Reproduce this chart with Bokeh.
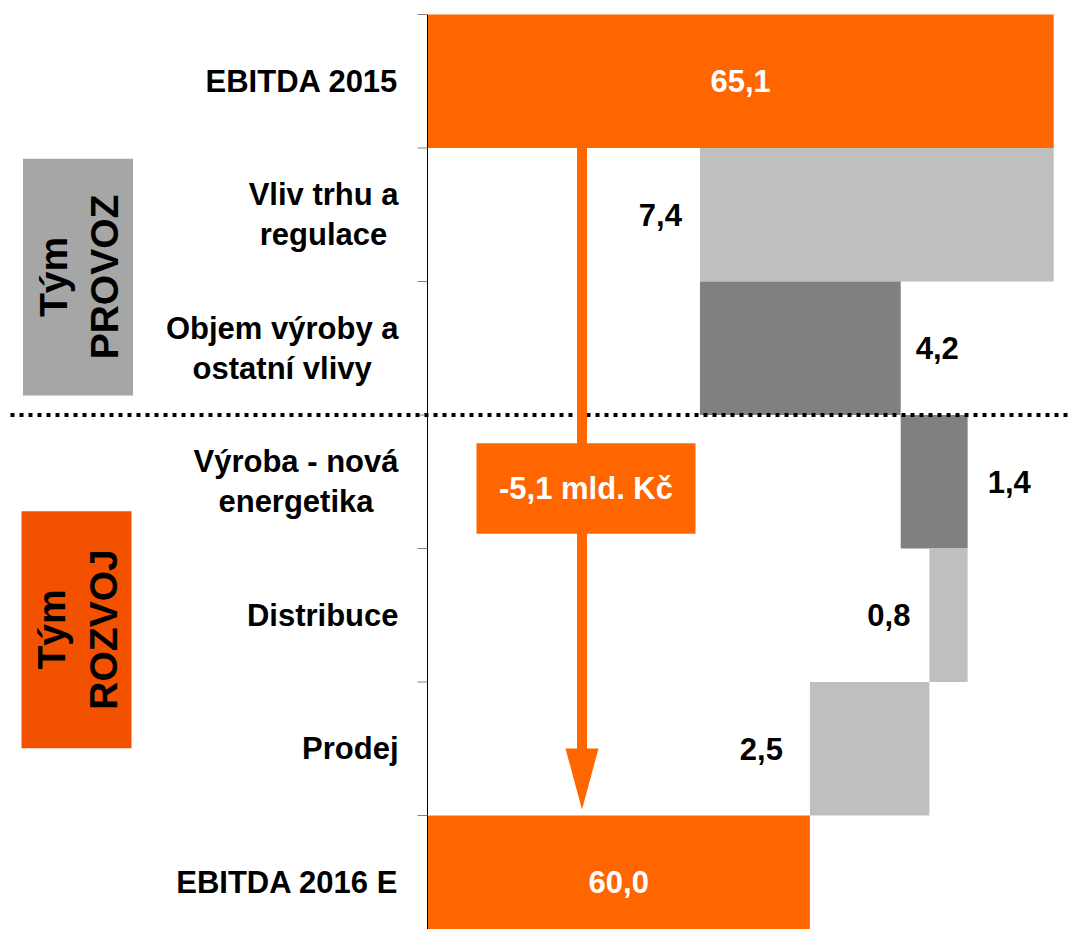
from math import pi
from bokeh.plotting import figure
from bokeh.models import Range1d, ColumnDataSource
from bokeh.core.properties import value
from bokeh.embed import file_html
from bokeh.resources import INLINE

# ---------------- data ----------------
categories = ["EBITDA 2015", "Vliv trhu a\nregulace", "Objem výroby a\nostatní vlivy",
              "Výroba - nová\nenergetika", "Distribuce", "Prodej", "EBITDA 2016 E"]
start_total = 65.1
deltas = [-7.4, 4.2, 1.4, -0.8, -2.5]
end_total = 60.0
teams = ["Tým\nPROVOZ", "Tým\nROZVOJ"]
unit = "mld. Kč"
axis_start = 52.0

def fmt(v):
    return f"{v:.1f}".replace(".", ",")

# ---------------- layout helpers (picture pixels -> data) ----------------
W, H = 1068, 929
ORIGIN = 0.0
AXIS_PX = 427.0
PX_PER_UNIT = 47.8
ROW_TOP_PX = 14.0
ROW_H = 133.5

def dx(px):
    return axis_start + (px - AXIS_PX) / PX_PER_UNIT

def dy(py):
    return (py - ROW_TOP_PX) / ROW_H - 0.5

ORANGE = "#FF6600"
LIGHT = "#BFBFBF"
DARK = "#808080"
FONT = value("Liberation Sans")

p = figure(width=W, height=H, x_range=Range1d(dx(ORIGIN), dx(ORIGIN + W)),
           y_range=Range1d(dy(ORIGIN + H), dy(ORIGIN)),
           x_axis_location=None, y_axis_location=None,
           output_backend="svg", toolbar_location=None, min_border=0)
p.grid.visible = False
p.outline_line_color = None
p.background_fill_color = "white"

# ---------------- waterfall bars ----------------
rows = list(range(len(categories)))
lefts, rights, colors = [axis_start], [start_total], [ORANGE]
level = start_total
for d in deltas:
    new = level + d
    lefts.append(min(level, new))
    rights.append(max(level, new))
    colors.append(DARK if d > 0 else LIGHT)
    level = new
lefts.append(axis_start)
rights.append(end_total)
colors.append(ORANGE)

p.hbar(y=rows, left=lefts, right=rights, height=1.0, fill_color=colors, line_color=None)

# axis line and ticks
p.segment(x0=[axis_start], y0=[-0.5], x1=[axis_start], y1=[len(categories) - 0.5],
          line_color="black", line_width=1)
bounds = [r - 0.5 for r in rows]
p.segment(x0=[dx(417)] * len(bounds), y0=bounds, x1=[axis_start] * len(bounds), y1=bounds,
          line_color="#808080", line_width=1)

# category labels
p.text(x=[axis_start] * len(categories), y=rows, text=categories, x_offset=-29,
       anchor="center_right", text_align="center", text_baseline="middle",
       text_font=FONT, text_font_style="bold", text_font_size="31px",
       text_line_height=1.13, text_color="black")

# total labels (white, centred)
p.text(x=[(lefts[0] + rights[0]) / 2, (lefts[-1] + rights[-1]) / 2], y=[rows[0], rows[-1]],
       text=[fmt(start_total), fmt(end_total)], text_align="center", text_baseline="middle",
       text_font=FONT, text_font_style="bold", text_font_size="31px", text_color="white")

# delta labels
gaps = [18, 15, 20, 19, 27]
negd = dict(x=[], y=[], t=[], o=[])
posd = dict(x=[], y=[], t=[], o=[])
for i, d in enumerate(deltas):
    r = i + 1
    if d < 0:
        negd["x"].append(lefts[r]); negd["y"].append(r); negd["t"].append(fmt(abs(d))); negd["o"].append(-gaps[i])
    else:
        posd["x"].append(rights[r]); posd["y"].append(r); posd["t"].append(fmt(abs(d))); posd["o"].append(gaps[i])
neg = ColumnDataSource(negd)
pos = ColumnDataSource(posd)
p.text(x="x", y="y", text="t", x_offset="o", source=neg, text_align="right", text_baseline="middle",
       text_font=FONT, text_font_style="bold", text_font_size="31px", text_color="black")
p.text(x="x", y="y", text="t", x_offset="o", source=pos, text_align="left", text_baseline="middle",
       text_font=FONT, text_font_style="bold", text_font_size="31px", text_color="black")

# dotted separator between teams
p.segment(x0=[dx(10)], y0=[2.5], x1=[dx(1090)], y1=[2.5], line_color="black",
          line_width=4, line_dash="4 5")

# big arrow from first total to final total
ax = dx(581.5)
p.quad(left=[dx(576.5)], right=[dx(586.5)], top=[0.5], bottom=[dy(750)],
       fill_color=ORANGE, line_color=None)
p.patch(x=[dx(565), dx(598), ax], y=[dy(748), dy(748), dy(809)],
        fill_color=ORANGE, line_color=None)
p.quad(left=[dx(476)], right=[dx(695)], top=[dy(442.7)], bottom=[dy(533.3)],
       fill_color=ORANGE, line_color=None)
p.text(x=[dx(585.5)], y=[dy(488)], text=[f"{fmt(end_total - start_total)} {unit}"],
       text_align="center", text_baseline="middle", text_font=FONT, text_font_style="bold",
       text_font_size="31px", text_color="white")

# team boxes
p.quad(left=[dx(22.5), dx(21)], right=[dx(132.5), dx(131)],
       top=[dy(158.3), dy(510.7)], bottom=[dy(395), dy(747.7)],
       fill_color=["#A6A6A6", "#F25200"], line_color=None)
p.text(x=[dx(78.5), dx(77)], y=[dy(276.5), dy(629)], text=teams, angle=pi / 2,
       text_align="center", text_baseline="middle", text_font=FONT, text_font_style="bold",
       text_font_size="39px", text_line_height=1.2, text_color="black")

open("out.html", "w").write(file_html(p, INLINE))
